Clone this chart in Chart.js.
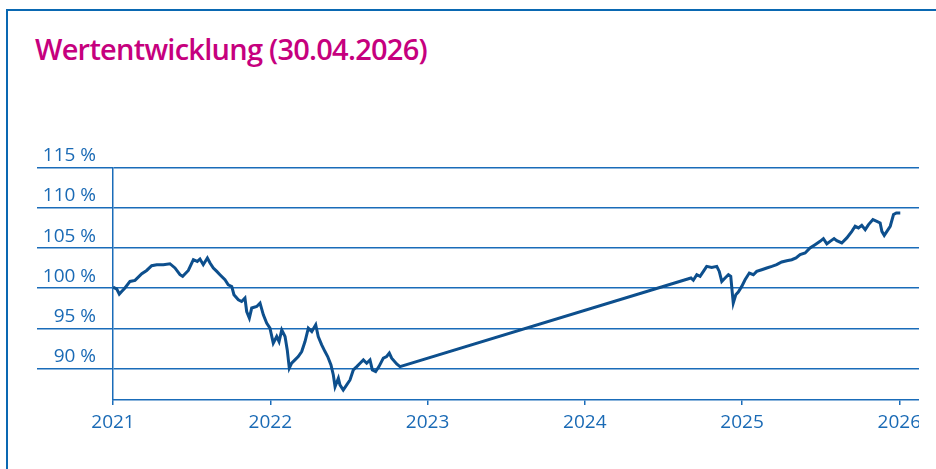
<!DOCTYPE html>
<html>
<head>
<meta charset="utf-8">
<script src="https://cdn.jsdelivr.net/npm/chart.js@4.4.1/dist/chart.umd.min.js"></script>
<style>
  html, body { margin: 0; padding: 0; background: #ffffff; }
  body { width: 936px; height: 469px; position: relative; overflow: hidden; }
  #frame { position: absolute; left: 6px; top: 9px; width: 940px; height: 470px;
           border-left: 2px solid #0a68b2; border-top: 2px solid #0a68b2; }
  #title { position: absolute; left: 35px; top: 34px; margin: 0;
           font-family: 'Open Sans', sans-serif; font-weight: 600; font-size: 29px;
           letter-spacing: -0.75px;
           line-height: 29px; color: #c6007e; white-space: nowrap; }
  #wrap { position: absolute; left: 0; top: 0; width: 919px; height: 469px; overflow: hidden; }
  canvas { display: block; }
</style>
</head>
<body>
<div id="frame"></div>
<h1 id="title">Wertentwicklung (30.04.2026)</h1>
<div id="wrap"><canvas id="c" width="936" height="469"></canvas></div>
<script>
// time positions as decimal years
const years = [
  2021.000, 2021.024, 2021.040, 2021.055, 2021.076, 2021.108, 2021.140, 2021.183, 2021.214, 2021.246,
  2021.278, 2021.320, 2021.362, 2021.394, 2021.426, 2021.443, 2021.479, 2021.511, 2021.536, 2021.553,
  2021.574, 2021.600, 2021.617, 2021.638, 2021.660, 2021.680, 2021.712, 2021.733, 2021.755, 2021.769,
  2021.797, 2021.818, 2021.839, 2021.850, 2021.867, 2021.882, 2021.914, 2021.935,
  2021.956, 2021.977, 2021.998, 2022.019, 2022.041, 2022.056, 2022.073, 2022.094, 2022.108, 2022.121,
  2022.136, 2022.157, 2022.178, 2022.200, 2022.221, 2022.242, 2022.264, 2022.289, 2022.305, 2022.327,
  2022.348, 2022.365, 2022.386, 2022.401, 2022.412, 2022.433, 2022.443, 2022.464, 2022.486, 2022.507,
  2022.528, 2022.550, 2022.571, 2022.592, 2022.613, 2022.634, 2022.649, 2022.670, 2022.691, 2022.719,
  2022.740, 2022.757, 2022.772, 2022.804, 2022.825,
  2024.675, 2024.690, 2024.712, 2024.733, 2024.754, 2024.775, 2024.807, 2024.839, 2024.855, 2024.871,
  2024.892, 2024.913, 2024.928, 2024.938, 2024.944, 2024.960, 2024.976, 2024.998, 2025.019, 2025.046,
  2025.072, 2025.093, 2025.125, 2025.157, 2025.189, 2025.220, 2025.252, 2025.284, 2025.316, 2025.343,
  2025.369, 2025.401, 2025.432, 2025.464, 2025.496, 2025.517, 2025.539, 2025.560, 2025.585, 2025.602,
  2025.634, 2025.666, 2025.698, 2025.719, 2025.740, 2025.761, 2025.783, 2025.804, 2025.832, 2025.857,
  2025.878, 2025.889, 2025.904, 2025.921, 2025.942, 2025.963, 2025.981, 2026.006
];
// performance in percent
const values = [
  100.15, 99.90, 99.28, 99.60, 100.03, 100.85, 100.98, 101.81, 102.22, 102.81,
  102.94, 102.94, 103.06, 102.53, 101.69, 101.48, 102.22, 103.56, 103.35, 103.65,
  102.94, 103.78, 103.15, 102.53, 102.10, 101.69, 101.06, 100.44, 100.22, 99.19,
  98.56, 98.35, 98.78, 97.10, 96.28, 97.53, 97.72, 98.15,
  96.69, 95.65, 95.03, 93.15, 93.98, 93.35, 94.81, 93.98, 92.31, 90.03,
  90.65, 91.06, 91.48, 92.10, 93.35, 95.03, 94.60, 95.44, 93.98, 92.94,
  92.10, 91.48, 90.44, 89.19, 87.73, 88.78, 87.94, 87.31, 87.94, 88.56,
  89.81, 90.23, 90.65, 91.06, 90.65, 91.06, 89.81, 89.60, 90.23, 91.28,
  91.48, 91.90, 91.28, 90.56, 90.23,
  101.28, 101.00, 101.69, 101.48, 102.10, 102.73, 102.60, 102.73, 102.10, 100.85,
  101.28, 101.69, 101.48, 99.40, 98.15, 99.19, 99.53, 100.23, 101.06, 101.90,
  101.69, 102.10, 102.31, 102.53, 102.73, 102.94, 103.28, 103.44, 103.56, 103.78,
  104.19, 104.40, 105.03, 105.44, 105.85, 106.19, 105.53, 105.85, 106.19, 105.94,
  105.65, 106.28, 107.10, 107.73, 107.53, 107.85, 107.31, 107.94, 108.56, 108.35,
  108.15, 107.10, 106.60, 107.10, 107.73, 109.19, 109.40, 109.40
];
const yTicks = [90, 95, 100, 105, 110, 115];
const xTicks = [2021, 2022, 2023, 2024, 2025, 2026];

const gridBlue = '#1a6cb9';
const textBlue = '#1a6ab5';
const lineBlue = '#0d4f8d';
const labelFont = { family: "'Open Sans', sans-serif", size: 19 };

new Chart(document.getElementById('c'), {
  type: 'line',
  data: {
    datasets: [{
      data: years.map((x, i) => ({ x: x, y: values[i] })),
      borderColor: lineBlue,
      borderWidth: 3,
      pointRadius: 0,
      tension: 0,
      fill: false
    }]
  },
  options: {
    responsive: false,
    animation: false,
    devicePixelRatio: 1,
    layout: { padding: { top: 168, right: 17, left: 0, bottom: 0 } },
    plugins: { legend: { display: false }, tooltip: { enabled: false }, title: { display: false } },
    scales: {
      x: {
        type: 'linear',
        min: 2021,
        max: 2026.125,
        afterBuildTicks: (s) => { s.ticks = xTicks.map(v => ({ value: v })); },
        afterFit: (s) => { s.height = 69; },
        ticks: {
          callback: (v) => String(v),
          font: labelFont,
          color: textBlue,
          padding: 6,
          autoSkip: false,
          maxRotation: 0
        },
        grid: { drawOnChartArea: false, tickLength: 5, color: gridBlue, lineWidth: 1.5 },
        border: { display: true, color: gridBlue, width: 1.5 }
      },
      y: {
        min: 86.06,
        max: 115,
        afterBuildTicks: (s) => { s.ticks = yTicks.map(v => ({ value: v })); },
        afterFit: (s) => { s.width = 113; },
        ticks: {
          callback: (v) => v + ' %',
          font: labelFont,
          color: textBlue,
          padding: -59,
          labelOffset: -12
        },
        grid: { color: gridBlue, lineWidth: 1.5, tickLength: 76 },
        border: { display: true, color: gridBlue, width: 1.5 }
      }
    }
  }
});
</script>
</body>
</html>
